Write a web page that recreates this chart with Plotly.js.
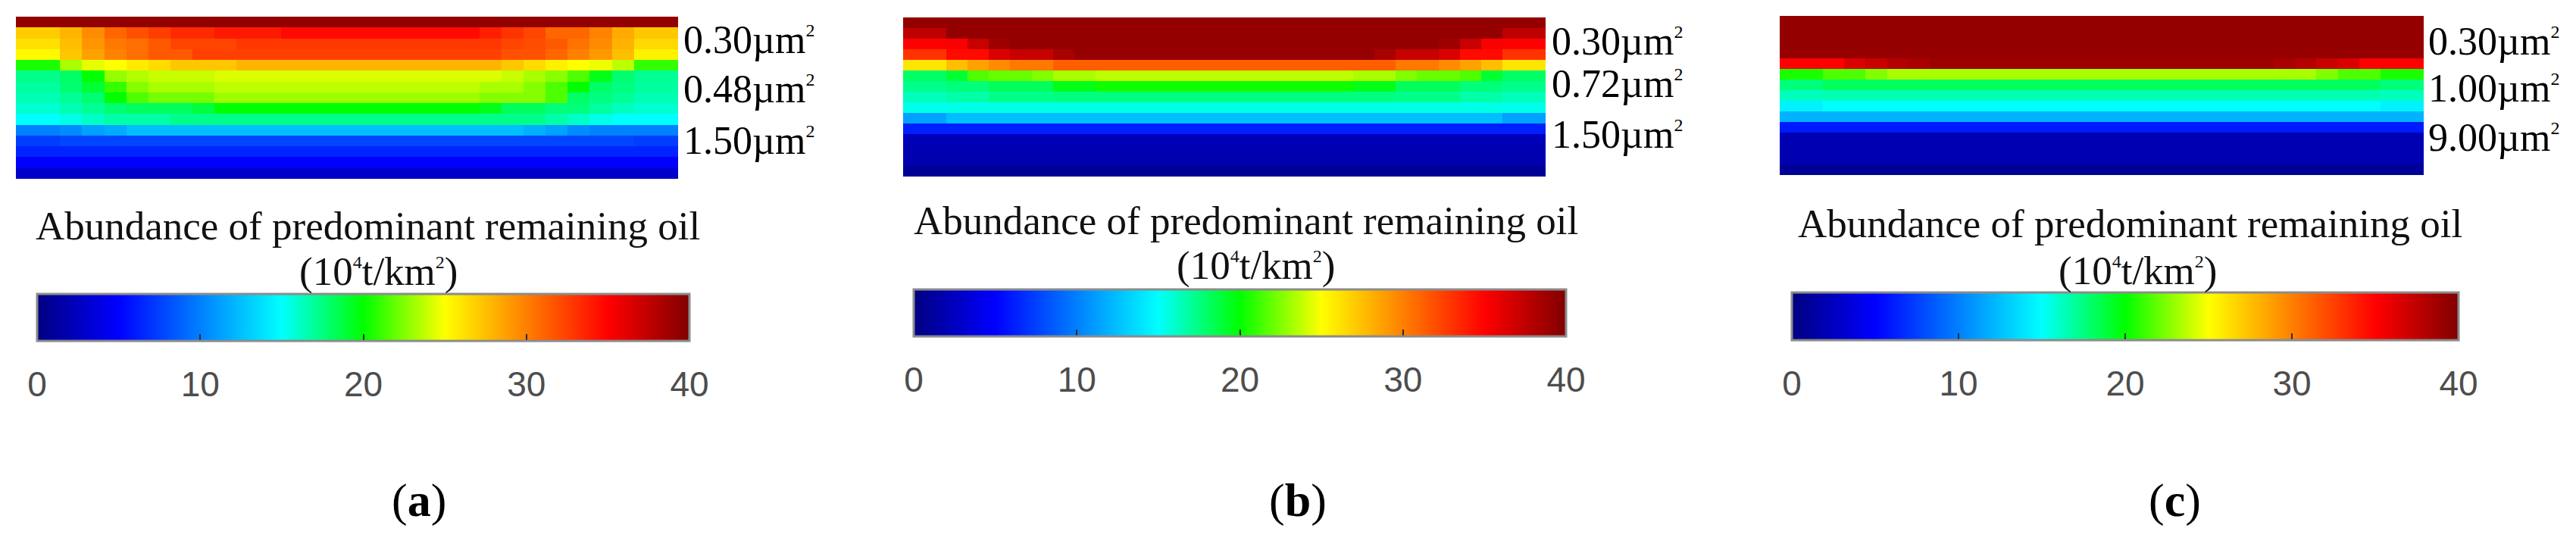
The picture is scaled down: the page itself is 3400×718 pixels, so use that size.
<!DOCTYPE html>
<html>
<head>
<meta charset="utf-8">
<script src="https://cdn.plot.ly/plotly-3.0.1.min.js"></script>
<style>html,body{margin:0;padding:0;background:#fff;}#chart{width:3400px;height:718px;}</style>
</head>
<body>
<div id="chart"></div>
<script>
// ---------- DATA ----------
// Abundance of predominant remaining oil (10^4 t/km^2), 15 layers (top->bottom) x 30 columns
const zA = [
 [39.3,39.3,39.3,39.3,39.3,39.3,39.3,39.3,39.3,39.3, 39.3,39.3,39.3,39.3,39.3,39.3,39.3,39.3,39.3,39.3, 39.3,39.3,39.3,39.3,39.3,39.3,39.3,39.3,39.3,39.3],
 [27.0,27.0,27.9,29.5,31.0,31.9,32.6,33.4,33.4,34.0, 34.0,34.0,34.6,34.6,34.6,34.6,34.6,34.6,34.6,34.6, 34.6,33.8,33.0,32.3,31.0,31.0,29.9,28.3,27.2,27.2],
 [26.2,26.2,27.5,29.1,30.3,30.7,31.5,32.3,32.3,32.3, 32.8,32.8,32.8,32.8,32.8,32.8,32.8,32.8,32.8,32.8, 32.8,32.8,32.3,32.0,31.5,30.5,29.5,28.0,26.5,26.5],
 [25.2,25.2,27.2,28.7,29.9,30.7,31.5,31.5,32.5,32.5, 32.5,32.5,32.5,32.5,32.5,32.5,32.5,32.5,32.5,32.5, 32.5,32.5,31.8,31.8,31.0,30.0,29.0,27.5,25.5,25.5],
 [20.5,20.5,23.3,24.5,25.0,25.8,26.4,27.2,27.2,27.2, 27.9,27.9,27.9,27.9,27.9,27.9,27.9,27.9,27.9,27.9, 27.9,27.9,27.2,26.4,25.6,25.0,24.7,23.7,21.0,21.0],
 [17.3,17.3,18.0,20.0,22.9,23.5,23.9,23.9,23.9,24.3, 24.3,24.3,24.3,24.3,24.3,24.3,24.3,24.3,24.3,24.3, 24.3,24.3,23.9,23.3,22.7,21.5,19.5,17.8,17.1,17.1],
 [16.9,16.9,17.8,19.0,21.0,22.6,23.3,23.3,23.3,23.7, 23.7,23.7,23.7,23.7,23.7,23.7,23.7,23.7,23.7,23.7, 23.7,23.3,23.3,22.6,21.5,20.0,18.0,17.5,16.9,16.9],
 [16.5,16.5,17.1,17.8,20.0,21.5,22.3,22.3,22.3,23.1, 23.1,23.1,23.1,23.1,23.1,23.1,23.1,23.1,23.1,23.1, 23.1,22.6,22.6,22.6,21.5,18.0,17.5,17.1,16.5,16.5],
 [15.9,15.9,16.5,17.1,17.8,18.2,18.2,18.2,18.8,20.0, 20.0,20.0,20.0,20.0,20.0,20.0,20.0,20.0,20.0,20.0, 20.0,19.5,18.2,18.2,17.6,17.6,16.9,16.3,15.9,15.9],
 [15.0,15.0,15.5,16.1,16.7,16.7,16.7,17.3,17.3,17.3, 17.3,17.3,17.3,17.3,17.3,17.3,17.3,17.3,17.3,17.3, 17.3,17.3,17.3,17.3,16.7,16.1,15.5,15.0,15.0,15.0],
 [10.1,10.1,10.5,11.3,11.7,12.5,12.5,12.5,12.5,12.5, 12.5,12.5,12.5,12.5,12.5,12.5,12.5,12.5,12.5,12.5, 12.5,12.5,12.5,11.9,11.3,10.5,10.1,10.1,10.1,10.1],
 [7.4,7.4,7.7,7.7,7.7,7.7,7.7,7.7,7.7,7.7, 7.7,7.7,7.7,7.7,7.7,7.7,7.7,7.7,7.7,7.7, 7.7,7.7,7.7,7.7,7.7,7.7,7.7,7.7,7.4,7.4],
 [6.4,6.4,6.4,6.4,6.4,6.4,6.4,6.4,6.4,6.4, 6.4,6.4,6.4,6.4,6.4,6.4,6.4,6.4,6.4,6.4, 6.4,6.4,6.4,6.4,6.4,6.4,6.4,6.4,6.4,6.4],
 [4.9,4.9,4.9,4.9,4.9,4.9,4.9,4.9,4.9,4.9, 4.9,4.9,4.9,4.9,4.9,4.9,4.9,4.9,4.9,4.9, 4.9,4.9,4.9,4.9,4.9,4.9,4.9,4.9,4.9,4.9],
 [3.0,3.0,3.0,3.0,3.0,3.0,3.0,3.0,3.0,3.0, 3.0,3.0,3.0,3.0,3.0,3.0,3.0,3.0,3.0,3.0, 3.0,3.0,3.0,3.0,3.0,3.0,3.0,3.0,3.0,3.0]
];
const zB = [
 [39.2,39.2,39.2,39.2,39.2,39.2,39.2,39.2,39.2,39.2, 39.2,39.2,39.2,39.2,39.2,39.2,39.2,39.2,39.2,39.2, 39.2,39.2,39.2,39.2,39.2,39.2,39.2,39.2,39.2,39.2],
 [37.6,37.6,39.2,39.2,39.2,39.2,39.2,39.2,39.2,39.2, 39.2,39.2,39.2,39.2,39.2,39.2,39.2,39.2,39.2,39.2, 39.2,39.2,39.2,39.2,39.2,39.2,39.2,39.2,37.6,37.6],
 [35.0,35.0,35.2,37.2,38.8,39.2,39.2,39.2,39.2,39.2, 39.2,39.2,39.2,39.2,39.2,39.2,39.2,39.2,39.2,39.2, 39.2,39.2,39.2,39.2,39.2,38.8,37.2,35.2,35.0,35.0],
 [33.0,33.0,34.6,34.6,36.4,37.2,37.2,38.4,39.1,39.1, 39.1,39.1,39.1,39.1,39.1,39.1,39.1,39.1,39.1,39.1, 39.1,39.1,38.4,37.2,37.2,36.4,34.6,34.6,33.0,33.0],
 [26.0,26.0,27.5,28.7,29.5,30.3,30.3,31.3,31.3,31.3, 31.3,31.3,31.3,31.3,31.3,31.3,31.3,31.3,31.3,31.3, 31.3,31.3,31.3,30.3,30.3,29.5,28.7,27.5,26.0,26.0],
 [18.0,18.0,19.0,21.5,22.0,22.0,22.5,23.3,23.3,23.7, 23.7,23.7,23.7,23.7,23.7,23.7,23.7,23.7,23.7,23.7, 23.7,23.3,23.3,22.5,22.0,22.0,21.5,19.0,18.0,18.0],
 [17.3,17.3,17.6,17.6,18.2,18.2,18.2,19.5,19.5,20.3, 20.3,20.3,20.3,20.3,20.3,20.3,20.3,20.3,20.3,20.3, 20.3,19.5,19.5,18.2,18.2,18.2,17.6,17.6,17.3,17.3],
 [16.3,16.3,16.7,16.7,17.3,17.3,17.3,17.5,17.5,17.5, 17.5,17.5,17.5,17.5,17.5,17.5,17.5,17.5,17.5,17.5, 17.5,17.5,17.5,17.3,17.3,17.3,16.7,16.7,16.3,16.3],
 [15.4,15.4,15.5,15.5,15.5,15.5,15.5,15.5,15.5,15.5, 15.5,15.5,15.5,15.5,15.5,15.5,15.5,15.5,15.5,15.5, 15.5,15.5,15.5,15.5,15.5,15.5,15.5,15.5,15.4,15.4],
 [11.3,11.3,12.5,12.5,12.5,12.5,12.5,12.5,12.5,12.5, 12.5,12.5,12.5,12.5,12.5,12.5,12.5,12.5,12.5,12.5, 12.5,12.5,12.5,12.5,12.5,12.5,12.5,12.5,11.3,11.3],
 [6.2,6.2,6.2,6.2,6.2,6.2,6.2,6.2,6.2,6.2, 6.2,6.2,6.2,6.2,6.2,6.2,6.2,6.2,6.2,6.2, 6.2,6.2,6.2,6.2,6.2,6.2,6.2,6.2,6.2,6.2],
 [2.2,2.2,2.2,2.2,2.2,2.2,2.2,2.2,2.2,2.2, 2.2,2.2,2.2,2.2,2.2,2.2,2.2,2.2,2.2,2.2, 2.2,2.2,2.2,2.2,2.2,2.2,2.2,2.2,2.2,2.2],
 [2.0,2.0,2.0,2.0,2.0,2.0,2.0,2.0,2.0,2.0, 2.0,2.0,2.0,2.0,2.0,2.0,2.0,2.0,2.0,2.0, 2.0,2.0,2.0,2.0,2.0,2.0,2.0,2.0,2.0,2.0],
 [1.8,1.8,1.8,1.8,1.8,1.8,1.8,1.8,1.8,1.8, 1.8,1.8,1.8,1.8,1.8,1.8,1.8,1.8,1.8,1.8, 1.8,1.8,1.8,1.8,1.8,1.8,1.8,1.8,1.8,1.8],
 [0.9,0.9,0.9,0.9,0.9,0.9,0.9,0.9,0.9,0.9, 0.9,0.9,0.9,0.9,0.9,0.9,0.9,0.9,0.9,0.9, 0.9,0.9,0.9,0.9,0.9,0.9,0.9,0.9,0.9,0.9]
];
const zC = [
 [39.2,39.2,39.2,39.2,39.2,39.2,39.2,39.2,39.2,39.2, 39.2,39.2,39.2,39.2,39.2,39.2,39.2,39.2,39.2,39.2, 39.2,39.2,39.2,39.2,39.2,39.2,39.2,39.2,39.2,39.2],
 [39.2,39.2,39.2,39.2,39.2,39.2,39.2,39.2,39.2,39.2, 39.2,39.2,39.2,39.2,39.2,39.2,39.2,39.2,39.2,39.2, 39.2,39.2,39.2,39.2,39.2,39.2,39.2,39.2,39.2,39.2],
 [39.2,39.2,39.2,39.2,39.2,39.2,39.2,39.2,39.2,39.2, 39.2,39.2,39.2,39.2,39.2,39.2,39.2,39.2,39.2,39.2, 39.2,39.2,39.2,39.2,39.2,39.2,39.2,39.2,39.2,39.2],
 [39.1,39.1,39.1,39.1,39.1,39.1,39.1,39.1,39.1,39.1, 39.1,39.1,39.1,39.1,39.1,39.1,39.1,39.1,39.1,39.1, 39.1,39.1,39.1,39.1,39.1,39.1,39.1,39.1,39.1,39.1],
 [35.0,35.0,35.0,36.4,37.2,38.0,38.4,38.8,38.8,38.8, 38.8,38.8,38.8,38.8,38.8,38.8,38.8,38.8,38.8,38.8, 38.8,38.8,38.8,38.4,38.0,37.2,36.4,35.0,35.0,35.0],
 [20.5,20.5,21.5,21.5,22.5,23.3,23.3,23.3,23.3,23.3, 23.3,23.3,23.3,23.3,23.3,23.3,23.3,23.3,23.3,23.3, 23.3,23.3,23.3,23.3,23.3,22.5,21.5,21.5,20.5,20.5],
 [17.6,17.6,18.2,18.2,18.2,18.2,18.2,18.2,18.2,18.2, 18.2,18.2,18.2,18.2,18.2,18.2,18.2,18.2,18.2,18.2, 18.2,18.2,18.2,18.2,18.2,18.2,18.2,18.2,17.6,17.6],
 [16.3,16.3,16.5,16.5,16.5,16.5,16.5,16.5,16.5,16.5, 16.5,16.5,16.5,16.5,16.5,16.5,16.5,16.5,16.5,16.5, 16.5,16.5,16.5,16.5,16.5,16.5,16.5,16.5,16.3,16.3],
 [14.5,14.5,15.0,15.0,15.0,15.0,15.0,15.0,15.0,15.0, 15.0,15.0,15.0,15.0,15.0,15.0,15.0,15.0,15.0,15.0, 15.0,15.0,15.0,15.0,15.0,15.0,15.0,15.0,14.5,14.5],
 [12.0,12.0,12.0,12.0,12.0,12.0,12.0,12.0,12.0,12.0, 12.0,12.0,12.0,12.0,12.0,12.0,12.0,12.0,12.0,12.0, 12.0,12.0,12.0,12.0,12.0,12.0,12.0,12.0,12.0,12.0],
 [6.0,6.0,6.0,6.0,6.0,6.0,6.0,6.0,6.0,6.0, 6.0,6.0,6.0,6.0,6.0,6.0,6.0,6.0,6.0,6.0, 6.0,6.0,6.0,6.0,6.0,6.0,6.0,6.0,6.0,6.0],
 [2.0,2.0,2.0,2.0,2.0,2.0,2.0,2.0,2.0,2.0, 2.0,2.0,2.0,2.0,2.0,2.0,2.0,2.0,2.0,2.0, 2.0,2.0,2.0,2.0,2.0,2.0,2.0,2.0,2.0,2.0],
 [2.0,2.0,2.0,2.0,2.0,2.0,2.0,2.0,2.0,2.0, 2.0,2.0,2.0,2.0,2.0,2.0,2.0,2.0,2.0,2.0, 2.0,2.0,2.0,2.0,2.0,2.0,2.0,2.0,2.0,2.0],
 [1.9,1.9,1.9,1.9,1.9,1.9,1.9,1.9,1.9,1.9, 1.9,1.9,1.9,1.9,1.9,1.9,1.9,1.9,1.9,1.9, 1.9,1.9,1.9,1.9,1.9,1.9,1.9,1.9,1.9,1.9],
 [0.9,0.9,0.9,0.9,0.9,0.9,0.9,0.9,0.9,0.9, 0.9,0.9,0.9,0.9,0.9,0.9,0.9,0.9,0.9,0.9, 0.9,0.9,0.9,0.9,0.9,0.9,0.9,0.9,0.9,0.9]
];
const permA = ['0.30', '0.48', '1.50'];
const permB = ['0.30', '0.72', '1.50'];
const permC = ['0.30', '1.00', '9.00'];
const cbTickVals = [0, 10, 20, 30, 40];
const cbTickText = ['0', '10', '20', '30', '40'];
const panelLetters = ['a', 'b', 'c'];
const cbTitle = 'Abundance of predominant remaining oil';
const cbUnit = '(10<sup><span style="font-size:24px">4</span></sup>t/km<sup><span style="font-size:24px">2</span></sup>)';
const permUnit = '\u00b5m<sup><span style="font-size:24px">2</span></sup>';

// ---------- STYLE / LAYOUT ----------
const W = 3400, H = 718;
const px = v => v / W;
const py = v => 1 - v / H;
const rainbow = [[0, 'rgb(0,0,128)'], [0.125, 'rgb(0,0,255)'], [0.375, 'rgb(0,255,255)'],
                 [0.5, 'rgb(0,255,0)'], [0.625, 'rgb(255,255,0)'], [0.875, 'rgb(255,0,0)'],
                 [1, 'rgb(128,0,0)']];

const panels = [
  {z: zA, perm: permA, box: [21, 895, 22, 236], permX: 900, permY: [52, 118, 185],
   cb: [49, 910, 388, 450], titleXY: [485, 298], unitXY: [500, 358], letterX: 553},
  {z: zB, perm: permB, box: [1192, 2040, 23, 233], permX: 2046, permY: [55, 110, 177],
   cb: [1206, 2067, 382, 444], titleXY: [1644, 291], unitXY: [1658, 351], letterX: 1713},
  {z: zC, perm: permC, box: [2349, 3199, 21, 231], permX: 3203, permY: [55, 117, 182],
   cb: [2365, 3245, 386, 449], titleXY: [2811, 295], unitXY: [2822, 357], letterX: 2870}
];

const serif = '"Liberation Serif", "Times New Roman", serif';
const sans = '"Liberation Sans", Arial, sans-serif';
const traces = [];
const layout = {
  width: W, height: H, margin: {l: 0, r: 0, t: 0, b: 0},
  paper_bgcolor: '#fff', plot_bgcolor: '#fff', showlegend: false,
  annotations: []
};

panels.forEach((p, i) => {
  const n = i === 0 ? '' : String(i + 1);
  layout['xaxis' + n] = {domain: [px(p.box[0]), px(p.box[1])], visible: false, fixedrange: true, anchor: 'y' + n};
  layout['yaxis' + n] = {domain: [py(p.box[3]), py(p.box[2])], visible: false, fixedrange: true,
                         autorange: 'reversed', anchor: 'x' + n};
  const cbBase = {
    orientation: 'h', x: px((p.cb[0] + p.cb[1]) / 2), xanchor: 'center',
    y: py(p.cb[2]), yanchor: 'top', lenmode: 'pixels', len: p.cb[1] - p.cb[0],
    thicknessmode: 'pixels', thickness: p.cb[3] - p.cb[2], xpad: 0, ypad: 0,
    tickmode: 'array', tickvals: cbTickVals, ticktext: cbTickText, borderwidth: 0
  };
  // colorbar carrying the tick labels (drawn first)
  traces.push({
    type: 'heatmap', z: p.z, xaxis: 'x' + n, yaxis: 'y' + n, zmin: 0, zmax: 40,
    colorscale: rainbow, zsmooth: false, hoverinfo: 'skip',
    colorbar: Object.assign({}, cbBase, {
      ticks: 'outside', ticklen: 18, tickcolor: 'rgba(0,0,0,0)', outlinewidth: 0,
      showticklabels: true, tickfont: {family: sans, size: 46, color: '#4d4d4d'}
    })
  });
  // colorbar with the inner tick marks and the frame
  traces.push({
    type: 'heatmap', z: p.z, xaxis: 'x' + n, yaxis: 'y' + n, zmin: 0, zmax: 40,
    colorscale: rainbow, zsmooth: false, hoverinfo: 'skip',
    colorbar: Object.assign({}, cbBase, {
      ticks: 'inside', ticklen: 10, tickwidth: 2, tickcolor: '#2a2a2a',
      outlinewidth: 3, outlinecolor: '#8c8c8c', showticklabels: false
    })
  });
  p.perm.forEach((t, k) => {
    layout.annotations.push({
      xref: 'paper', yref: 'paper', x: px(p.permX), y: py(p.permY[k]),
      xanchor: 'left', yanchor: 'middle', showarrow: false,
      text: t + permUnit, font: {family: serif, size: 52, color: '#000'}
    });
  });
  layout.annotations.push({
    xref: 'paper', yref: 'paper', x: px(p.titleXY[0]), y: py(p.titleXY[1]),
    xanchor: 'center', yanchor: 'middle', showarrow: false,
    text: cbTitle, font: {family: serif, size: 53, color: '#111'}
  });
  layout.annotations.push({
    xref: 'paper', yref: 'paper', x: px(p.unitXY[0]), y: py(p.unitXY[1]),
    xanchor: 'center', yanchor: 'middle', showarrow: false,
    text: cbUnit, font: {family: serif, size: 53, color: '#111'}
  });
  layout.annotations.push({
    xref: 'paper', yref: 'paper', x: px(p.letterX), y: py(660),
    xanchor: 'center', yanchor: 'middle', showarrow: false,
    text: '(<b>' + panelLetters[i] + '</b>)', font: {family: serif, size: 62, color: '#000'}
  });
});

Plotly.newPlot('chart', traces, layout, {staticPlot: true, displayModeBar: false});
</script>
</body>
</html>
